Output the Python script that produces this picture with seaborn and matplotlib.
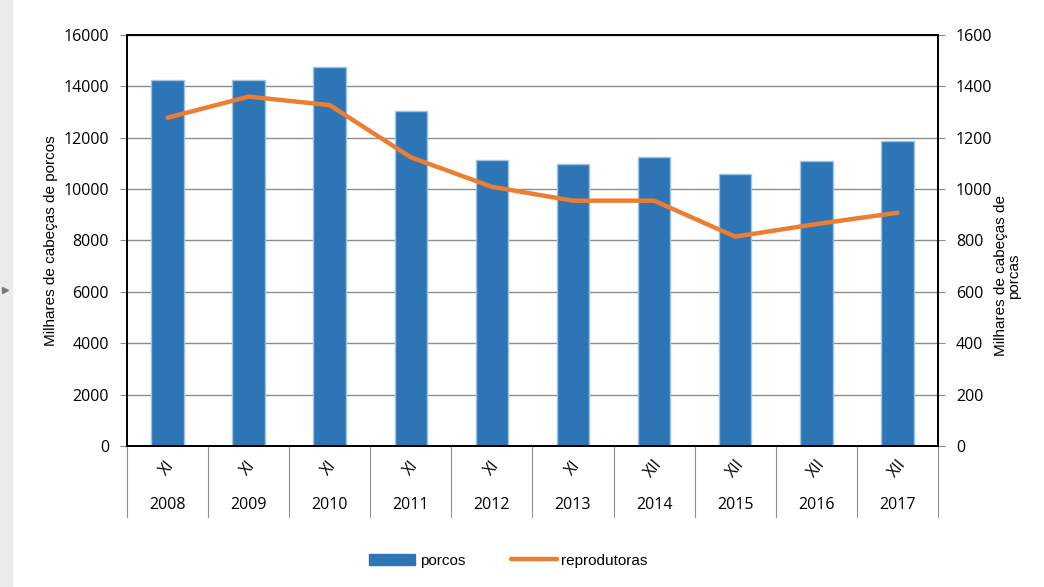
import numpy as np
import pandas as pd
import matplotlib
matplotlib.use("Agg")
import matplotlib.pyplot as plt
import matplotlib.transforms as mtransforms
from matplotlib.lines import Line2D
from matplotlib.patches import Patch, Rectangle
import seaborn as sns

anos = ["2008", "2009", "2010", "2011", "2012", "2013", "2014", "2015", "2016", "2017"]
trimestre = ["XI", "XI", "XI", "XI", "XI", "XI", "XII", "XII", "XII", "XII"]
porcos = [14250, 14260, 14770, 13040, 11130, 10990, 11260, 10590, 11100, 11880]
reprodutoras = [1278, 1360, 1327, 1124, 1009, 955, 955, 815, 864, 908]

AZUL = "#2E75B6"
LARANJA = "#ED7D31"

df = pd.DataFrame({"ano": anos, "trim": trimestre,
                   "porcos": porcos, "reprodutoras": reprodutoras})
df["pos"] = np.arange(len(df))

sns.set_style("white")
plt.rcParams["font.family"] = ["Liberation Sans", "DejaVu Sans"]
plt.rcParams["text.color"] = "black"
plt.rcParams["axes.labelcolor"] = "black"
plt.rcParams["xtick.color"] = "black"
plt.rcParams["ytick.color"] = "black"
tick_font = ["Open Sans", "DejaVu Sans"]

fig = plt.figure(figsize=(10.44, 5.87), dpi=100)
ax = fig.add_axes([0.1216, 0.2402, 0.7768, 0.7002])

sns.barplot(data=df, x="ano", y="porcos", color=AZUL, saturation=1,
            width=0.4, edgecolor="#9DC3E6", linewidth=1, ax=ax, zorder=2)
ax.set_ylim(0, 16000)
ax.set_yticks(np.arange(0, 16001, 2000))
ax.yaxis.grid(True, color="#8c8c8c", lw=1)
ax.set_axisbelow(True)
ax.set_xlim(-0.5, len(df) - 0.5)

ax2 = ax.twinx()
sns.lineplot(data=df, x="pos", y="reprodutoras", color=LARANJA, lw=3.2,
             ax=ax2, zorder=3)
ax2.set_ylim(0, 1600)
ax2.set_yticks(np.arange(0, 1601, 200))
ax2.set_xlim(-0.5, len(df) - 0.5)

for a in (ax, ax2):
    for s in a.spines.values():
        s.set_color("black")
        s.set_linewidth(1.3)
ax.tick_params(axis="y", direction="out", length=5, color="#8c8c8c",
               labelcolor="black", labelsize=11.5, pad=8, left=True)
ax2.tick_params(axis="y", direction="out", length=5, color="#8c8c8c",
                labelcolor="black", labelsize=11.5, pad=8, right=True)
for lab in ax.get_yticklabels() + ax2.get_yticklabels():
    lab.set_family(tick_font)
ax.tick_params(axis="x", length=0, bottom=False)
ax2.tick_params(axis="x", length=0, bottom=False, labelbottom=False)

ax.set_xlabel("")
ax2.set_xlabel("")
ax.set_ylabel("Milhares de cabeças de porcos", fontsize=11, labelpad=4)
ax2.set_ylabel("Milhares de cabeças de\nporcas", fontsize=11,
               linespacing=0.95)
ax2.yaxis.set_label_coords(1.069, 0.414)

# category axis: roman numerals + years, with separators
ax.set_xticks(df["pos"])
ax.set_xticklabels([])
trans = mtransforms.blended_transform_factory(ax.transData, ax.transAxes)
for p, t, y in zip(df["pos"], df["trim"], df["ano"]):
    ax.text(p, -0.055, t, transform=trans, ha="center", va="center",
            rotation=50, fontsize=11.5, family=tick_font)
    ax.text(p, -0.144, y, transform=trans, ha="center", va="center",
            fontsize=11.5, family=tick_font)
for b in np.arange(len(df) + 1) - 0.5:
    ax.add_line(Line2D([b, b], [0, -0.173], transform=trans, color="#8c8c8c",
                       lw=0.8, clip_on=False))

handles = [Patch(facecolor=AZUL, edgecolor=AZUL),
           Line2D([0], [0], color=LARANJA, lw=3.2)]
fig.legend(handles, ["porcos", "reprodutoras"], loc="center",
           bbox_to_anchor=(0.487, 0.045), ncol=2, frameon=False, fontsize=11,
           handlelength=3.0, handleheight=0.7, columnspacing=3.0,
           handletextpad=0.3)

fig.add_artist(Rectangle((0, 0), 12 / 1044, 1, transform=fig.transFigure,
                         color="#ebebeb", zorder=0))
fig.add_artist(Line2D([5 / 1044], [1 - 290 / 587], transform=fig.transFigure,
                      marker=">", markersize=5, color="#777777", lw=0))

fig.savefig("out.png", dpi=100)
